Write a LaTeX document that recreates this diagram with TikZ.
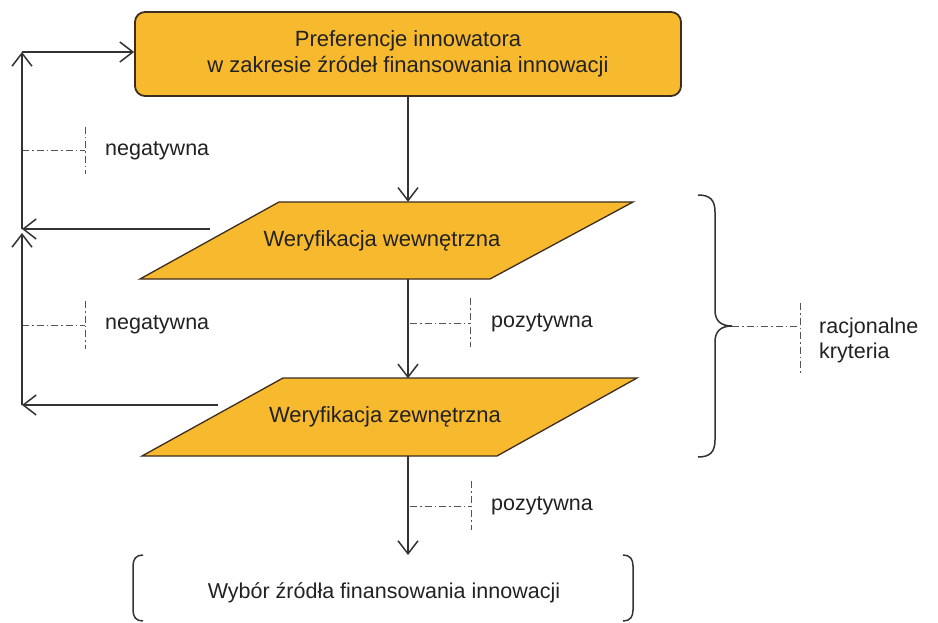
\documentclass[tikz,border=0pt]{standalone}
\usepackage{fontspec}
\setmainfont{Liberation Sans}
\usetikzlibrary{arrows.meta}
\definecolor{boxfill}{HTML}{F7B92E}
\definecolor{edge}{HTML}{333333}
\definecolor{boxedge}{HTML}{3D2D20}
\definecolor{txt}{HTML}{222222}
\definecolor{ddgray}{HTML}{555555}
\tikzset{
  conn/.style={draw=edge, line width=1.5pt, -{Straight Barb[length=13pt,width=20pt]}},
  topbox/.style={draw=boxedge, line width=1.8pt, fill=boxfill, rounded corners=10pt,
    minimum width=546pt, minimum height=84pt, align=center, text=txt,
    font=\fontsize{22}{25.5}\selectfont},
  para/.style={draw=boxedge, line width=1.3pt, fill=boxfill},
  paratext/.style={inner sep=0pt, minimum height=77pt, text=txt,
    font=\fontsize{22}{26}\selectfont},
  lbl/.style={inner sep=0pt, text=txt, font=\fontsize{21.5}{25}\selectfont},
  dd/.style={draw=ddgray, line width=1pt, dash pattern=on 7pt off 3pt on 1.5pt off 3pt},
  brk/.style={draw=edge, line width=1.5pt},
}
\begin{document}
\begin{tikzpicture}[x=1pt,y=-1pt]
\useasboundingbox (0,0) rectangle (938,623);
\fill[white] (0,0) rectangle (938,623);
% parallelograms
\filldraw[para] (140,279) -- (490,279) -- (633,202) -- (279,202) -- cycle;
\filldraw[para] (142,456) -- (497,456) -- (637,378) -- (283,378) -- cycle;
% nodes
\node[topbox] (top) at (408,54) {Preferencje innowatora\\w zakresie źródeł finansowania innowacji};
\node[paratext] (p1) at (382,240.5) {Weryfikacja wewnętrzna};
\node[paratext] (p2) at (385,417) {Weryfikacja zewnętrzna};
\node[lbl] (final) at (384,593) {Wybór źródła finansowania innowacji};
% labels
\node[lbl,anchor=west] (neg1) at (105,151) {negatywna};
\node[lbl,anchor=west] (neg2) at (105,325) {negatywna};
\node[lbl,anchor=west] (poz1) at (491,323) {pozytywna};
\node[lbl,anchor=west] (poz2) at (491,506) {pozytywna};
\node[lbl,anchor=west,align=left] (rk) at (819,340.5) {racjonalne\\kryteria};
% dash-dot leaders
\draw[dd] (22,151) -- (85,151); \draw[dd] (85,127) -- (85,174);
\draw[dd] (22,325) -- (85,325); \draw[dd] (85,301) -- (85,349);
\draw[dd] (410,323) -- (470,323); \draw[dd] (470,298) -- (470,347);
\draw[dd] (410,506) -- (471,506); \draw[dd] (471,481) -- (471,530);
\draw[dd] (732,326) -- (800,326); \draw[dd] (800,303) -- (800,375);
% brace
\draw[brk] (698,195) .. controls (710,195) and (715,200) .. (715,212) -- (715,310)
  .. controls (715,320) and (720,326) .. (732,326)
  .. controls (720,326) and (715,332) .. (715,342) -- (715,440)
  .. controls (715,452) and (710,457) .. (698,457);
% bottom brackets
\draw[brk] (143,555) .. controls (136,555) and (133,559) .. (133,566) -- (133,610)
  .. controls (133,617) and (136,621) .. (143,621);
\draw[brk] (623,555) .. controls (630,555) and (633,559) .. (633,566) -- (633,610)
  .. controls (633,617) and (630,621) .. (623,621);
% connectors
\coordinate (j0) at (22,52);
\coordinate (j1) at (22,229);
\coordinate (j2) at (22,405);
\coordinate (j1b) at (22,233);
\coordinate (s1) at (210,229);
\coordinate (s2) at (218,405);
\coordinate (fin) at (408,555);
\draw[conn] (top.south) -- (top.south |- p1.north);
\draw[conn] (top.south |- p1.south) -- (top.south |- p2.north);
\draw[conn] (top.south |- p2.south) -- (fin);
\draw[conn] (s1) -- (j1);
\draw[conn] (s2) -- (j2);
\draw[conn] (j2) -- (j1b);
\draw[conn] (j1) -- (j0);
\draw[conn] (j0) -- (top.west |- j0);
\end{tikzpicture}
\end{document}
